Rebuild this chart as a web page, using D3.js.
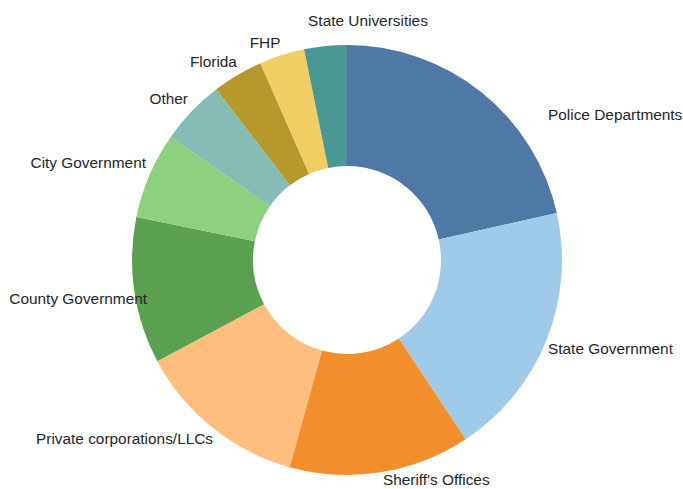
<!DOCTYPE html>
<html>
<head>
<meta charset="utf-8">
<script src="https://cdn.jsdelivr.net/npm/d3@7"></script>
<style>
  html, body { margin: 0; padding: 0; background: #fff; }
  svg { display: block; }
</style>
</head>
<body>
<div id="chart"></div>
<script>
// ---- Data ----
const categories = [
  "Police Departments",
  "State Government",
  "Sheriff's Offices",
  "Private corporations/LLCs",
  "County Government",
  "City Government",
  "Other",
  "Florida",
  "FHP",
  "State Universities"
];
const values = [21.5, 19.2, 13.6, 12.9, 11.0, 6.5, 4.9, 3.8, 3.4, 3.2];
const colors = ["#4e79a7", "#a0cbe8", "#f28e2b", "#ffbe7d", "#59a14f",
                "#8cd17d", "#86bcb6", "#b6992d", "#f1ce63", "#499894"];

// ---- Layout (label anchors, in units of the outer radius, relative to centre) ----
const labelLayout = [
  { x: 0.935,  y: -0.677, anchor: "start" },
  { x: 0.935,  y: 0.412,  anchor: "start" },
  { x: 0.167,  y: 1.021,  anchor: "start" },
  { x: -0.623, y: 0.830,  anchor: "end" },
  { x: -0.930, y: 0.179,  anchor: "end" },
  { x: -0.935, y: -0.453, anchor: "end" },
  { x: -0.740, y: -0.751, anchor: "end" },
  { x: -0.512, y: -0.923, anchor: "end" },
  { x: -0.381, y: -1.012, anchor: "middle" },
  { x: -0.181, y: -1.114, anchor: "start" }
];

const W = 683, H = 489;
const cx = 347, cy = 260;
const outerR = 215, innerR = 94;

const svg = d3.select("#chart").append("svg")
  .attr("width", W).attr("height", H);

const g = svg.append("g").attr("transform", `translate(${cx},${cy})`);

const data = categories.map((c, i) => ({ name: c, value: values[i], i }));

const pie = d3.pie().sort(null).value(d => d.value);
const arc = d3.arc().innerRadius(innerR).outerRadius(outerR);
const color = d3.scaleOrdinal().domain(categories).range(colors);

const arcs = pie(data);

g.selectAll("path.slice")
  .data(arcs)
  .join("path")
  .attr("class", "slice")
  .attr("d", arc)
  .attr("fill", d => color(d.data.name));

g.selectAll("text.label")
  .data(arcs)
  .join("text")
  .attr("class", "label")
  .attr("x", d => labelLayout[d.data.i].x * outerR)
  .attr("y", d => labelLayout[d.data.i].y * outerR)
  .attr("dy", "0.35em")
  .attr("text-anchor", d => labelLayout[d.data.i].anchor)
  .attr("font-family", "'Liberation Sans', Arial, sans-serif")
  .attr("font-size", 15.4)
  .attr("fill", "#262626")
  .text(d => d.data.name);
</script>
</body>
</html>
